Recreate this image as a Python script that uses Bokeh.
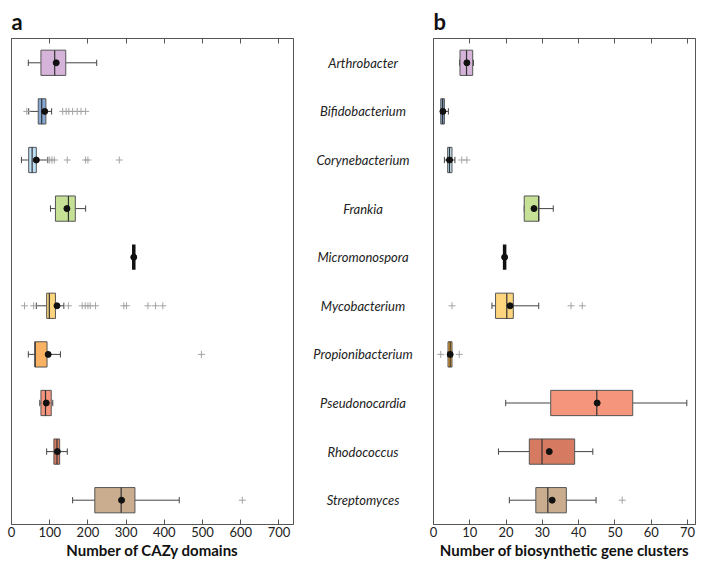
import numpy as np
from bokeh.plotting import figure
from bokeh.models import (ColumnDataSource, FactorRange, Range1d, LinearAxis, FixedTicker,
                          CustomLabelingPolicy)
from bokeh.transform import dodge
from bokeh.layouts import row
from bokeh.embed import file_html
from bokeh.resources import INLINE
from bokeh.core.properties import value

genera = ["Arthrobacter", "Bifidobacterium", "Corynebacterium", "Frankia", "Micromonospora",
          "Mycobacterium", "Propionibacterium", "Pseudonocardia", "Rhodococcus", "Streptomyces"]

colors_a = ["#d6b4d9", "#86a8d4", "#bcdff5", "#c6e096", "#111111",
            "#fcd57e", "#f9b263", "#f5957c", "#d67b61", "#caad8e"]
colors_b = ["#d6b4d9", "#86a8d4", "#bcdff5", "#c6e096", "#111111",
            "#fcd57e", "#f4a834", "#f5957c", "#d67b61", "#caad8e"]

# Panel a: number of CAZy domains
cazy_low = [44, 45, 26, 102, 320, 65, 44, 74, 92, 160]
cazy_q1 = [77, 70, 45, 115, 320, 92, 61, 77, 111, 218]
cazy_med = [113, 79, 54, 149, 320, 99, 62, 89, 119, 287]
cazy_q3 = [142, 90, 65, 167, 320, 115, 93, 104, 126, 323]
cazy_high = [223, 105, 95, 194, 320, 137, 128, 108, 146, 439]
cazy_mean = [117, 87, 65, 145, 320, 119, 96, 91, 120, 288]
cazy_out_genus = (["Bifidobacterium"] * 8 + ["Corynebacterium"] * 7 + ["Mycobacterium"] * 13
                  + ["Propionibacterium", "Streptomyces"])
cazy_out_value = ([40, 134, 143, 150, 160, 172, 182, 194]
                  + [100, 106, 112, 146, 194, 200, 282]
                  + [34, 58, 149, 185, 193, 200, 206, 220, 294, 301, 357, 377, 396]
                  + [497, 604])
cazy_ticks = [0, 100, 200, 300, 400, 500, 600, 700]

# Panel b: number of biosynthetic gene clusters
bgc_low = [7.2, 2.0, 3.0, 25.0, 19.6, 16.1, 4.0, 19.9, 17.9, 20.9]
bgc_q1 = [7.3, 2.0, 3.9, 25.0, 19.6, 17.1, 4.0, 32.3, 26.4, 28.2]
bgc_med = [9.1, 2.5, 4.4, 29.0, 19.6, 20.2, 4.6, 45.0, 29.9, 31.5]
bgc_q3 = [10.8, 3.0, 5.1, 29.0, 19.6, 22.0, 5.1, 54.9, 38.9, 36.6]
bgc_high = [11.0, 4.1, 5.9, 33.0, 19.6, 29.0, 5.1, 69.8, 43.9, 44.8]
bgc_mean = [9.2, 2.6, 4.4, 27.7, 19.6, 21.1, 4.6, 45.1, 31.9, 32.7]
bgc_out_genus = (["Corynebacterium"] * 2 + ["Mycobacterium"] * 3 + ["Propionibacterium"] * 2
                 + ["Streptomyces"])
bgc_out_value = [7.8, 9.2, 5.1, 37.9, 41.0, 2.0, 7.1, 52.0]
bgc_ticks = [0, 10, 20, 30, 40, 50, 60, 70]

FONT = "Lato"
FRAME_H = 486
TOP = 38
BOTTOM = 40
HEIGHT = FRAME_H + TOP + BOTTOM
EDGE = "#555555"
BOXH = 0.52


def make_panel(low, q1, med, q3, high, mean, colors, out_g, out_v, xmax, ticks, xlabel,
               letter, width, bl, br):
    yr = FactorRange(factors=list(reversed(genera)), range_padding=0)
    p = figure(width=width, height=HEIGHT, y_range=yr, x_range=Range1d(0, xmax),
               output_backend="svg", toolbar_location=None,
               x_axis_location=None, y_axis_location=None,
               min_border_left=bl, min_border_right=br,
               min_border_top=TOP, min_border_bottom=BOTTOM,
               title=letter)
    p.title.text_font = FONT
    p.title.text_font_size = "22px"
    p.title.text_font_style = "bold"
    p.title.text_color = "#111111"
    p.title.align = "left"
    p.title.standoff = 0
    p.title.text_line_height = 0.9
    p.xgrid.visible = False
    p.ygrid.visible = False
    p.outline_line_color = EDGE
    p.outline_line_width = 1
    p.background_fill_color = "white"
    p.border_fill_color = "white"

    single = [a == b for a, b in zip(q1, q3)]
    idx = [i for i, s in enumerate(single) if not s]
    sidx = [i for i, s in enumerate(single) if s]
    src = ColumnDataSource(dict(
        cat=[genera[i] for i in idx], low=[low[i] for i in idx], q1=[q1[i] for i in idx],
        med=[med[i] for i in idx], q3=[q3[i] for i in idx], high=[high[i] for i in idx],
        color=[colors[i] for i in idx]))
    ssrc = ColumnDataSource(dict(cat=[genera[i] for i in sidx], med=[med[i] for i in sidx]))
    msrc = ColumnDataSource(dict(cat=genera, mean=mean))

    p.segment(x0="low", y0="cat", x1="q1", y1="cat", source=src, line_color="#444444", line_width=1)
    p.segment(x0="q3", y0="cat", x1="high", y1="cat", source=src, line_color="#444444", line_width=1)
    for c in ("low", "high"):
        p.segment(x0=c, x1=c, y0=dodge("cat", -0.065, range=yr), y1=dodge("cat", 0.065, range=yr),
                  source=src, line_color="#444444", line_width=1)
    p.hbar(y="cat", left="q1", right="q3", height=BOXH, source=src, fill_color="color",
           line_color=EDGE, line_width=1)
    p.segment(x0="med", x1="med", y0=dodge("cat", -BOXH / 2, range=yr),
              y1=dodge("cat", BOXH / 2, range=yr), source=src, line_color="#333333", line_width=1.2)
    p.segment(x0="med", x1="med", y0=dodge("cat", -BOXH / 2, range=yr),
              y1=dodge("cat", BOXH / 2, range=yr), source=ssrc, line_color="#111111", line_width=3.5)
    p.scatter(x=out_v, y=out_g, marker="cross", size=7, line_color="#a3a3a3", line_width=1)
    p.scatter(x="mean", y="cat", source=msrc, size=6, fill_color="#111111", line_color="#111111")

    below = LinearAxis(ticker=FixedTicker(ticks=ticks), axis_label=xlabel)
    above = LinearAxis(ticker=FixedTicker(ticks=ticks))
    for ax in (below, above):
        ax.axis_line_color = EDGE
        ax.major_tick_line_color = EDGE
        ax.major_tick_in = 5
        ax.major_tick_out = 0
        ax.minor_tick_line_color = None
    above.major_label_policy = CustomLabelingPolicy(code="return new Set()")
    above.major_label_standoff = 0
    above.major_label_text_font_size = "1px"
    below.major_label_text_font = FONT
    below.major_label_text_font_size = "13px"
    below.major_label_text_color = "#222222"
    below.major_label_standoff = 2
    below.axis_label_text_font = FONT
    below.axis_label_text_font_size = "15px"
    below.axis_label_text_font_style = "bold"
    below.axis_label_text_color = "#111111"
    below.axis_label_standoff = 1
    p.add_layout(below, "below")
    p.add_layout(above, "above")
    return p


pa = make_panel(cazy_low, cazy_q1, cazy_med, cazy_q3, cazy_high, cazy_mean, colors_a,
                cazy_out_genus, cazy_out_value, 738, cazy_ticks, "Number of CAZy domains",
                "a", 300, 11, 7)
pb = make_panel(bgc_low, bgc_q1, bgc_med, bgc_q3, bgc_high, bgc_mean, colors_b,
                bgc_out_genus, bgc_out_value, 72.2, bgc_ticks,
                "Number of biosynthetic gene clusters", "b", 275, 8, 5)

ym = FactorRange(factors=list(reversed(genera)), range_padding=0)
pm = figure(width=125, height=HEIGHT, y_range=ym, x_range=Range1d(0, 1),
            output_backend="svg", toolbar_location=None,
            x_axis_location=None, y_axis_location=None,
            min_border_left=0, min_border_right=0,
            min_border_top=TOP, min_border_bottom=BOTTOM)
pm.outline_line_color = None
pm.xgrid.visible = False
pm.ygrid.visible = False
pm.text(x=[0.5] * len(genera), y=genera, text=genera, text_font=value(FONT),
        text_font_size="13px", text_font_style="italic", text_color="#222222",
        text_align="center", text_baseline="middle")

layout = row(pa, pm, pb)
open("out.html", "w").write(file_html(layout, INLINE))
